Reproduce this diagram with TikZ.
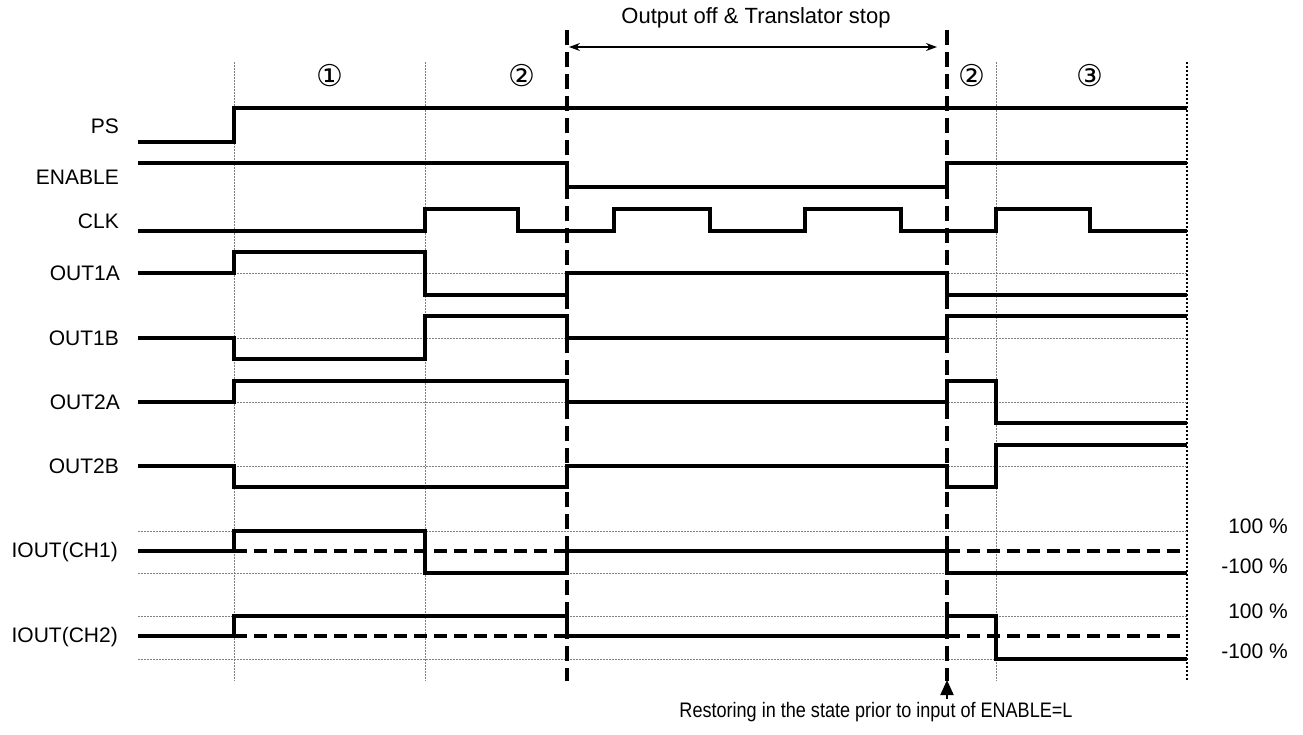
\documentclass[tikz,border=0pt]{standalone}
\usepackage{fontspec}
\setmainfont{Liberation Sans}
\newfontfamily\narrowfont{Liberation Sans}[FakeStretch=0.86]
\newfontfamily\circfont{DejaVu Sans}
\usepackage{tikz}
\usetikzlibrary{arrows.meta}
\usetikzlibrary{positioning}

\begin{document}
\begin{tikzpicture}[x=1pt, y=-1pt,
    sig/.style={line width=3.2pt, line join=miter},
    mid/.style={line width=3.2pt, dash pattern=on 13pt off 7pt},
    refline/.style={gray, line width=0.9pt, dash pattern=on 2pt off 1pt},
    tmark/.style={gray, line width=0.9pt, dash pattern=on 2pt off 1pt},
    stopline/.style={line width=3.4pt, dash pattern=on 15pt off 7pt},
    endline/.style={line width=2pt, dash pattern=on 2pt off 2pt},
    lbl/.style={anchor=east, inner sep=0pt, font=\fontsize{21}{25}\selectfont},
    pct/.style={anchor=east, inner sep=0pt, font=\fontsize{21}{25}\selectfont},
    phase/.style={inner sep=0pt, font=\circfont\fontsize{30}{34}\selectfont}]
    \useasboundingbox (0,0) rectangle (1303,735);

    % time marks
    \foreach \t in {234,425,996}
        \draw[tmark] (\t,62) -- (\t,681);
    \draw[endline] (1187,62) -- (1187,681);

    % reference levels
    \foreach \y in {273,338,402,466}
        \draw[refline] (234,\y) -- (1187,\y);
    \foreach \y in {531,573,616,659}
        \draw[refline] (138,\y) -- (1187,\y);

    % signal names
    \node[lbl] (ps)    at (119,126) {PS};
    \node[lbl] (en)    at (119,177) {ENABLE};
    \node[lbl] (clk)   at (119,221) {CLK};
    \node[lbl] (o1a)   at (120,273) {OUT1A};
    \node[lbl] (o1b)   at (119,338) {OUT1B};
    \node[lbl] (o2a)   at (120,402) {OUT2A};
    \node[lbl] (o2b)   at (119,466) {OUT2B};
    \node[lbl] (iout1) at (118,552) {IOUT(CH1)};
    \node[lbl] (iout2) at (118,637) {IOUT(CH2)};

    % phases
    \node[phase] (ph1)  at (330,76) {①};
    \node[phase] (ph2)  at (522,76) {②};
    \node[phase] (ph2b) at (972,76) {②};
    \node[phase] (ph3)  at (1090,76) {③};

    % waveforms
    \draw[sig] (138,142) -| (234,108) -- (1187,108);
    \draw[sig] (138,163) -| (567,187) -| (947,163) -- (1187,163);
    \draw[sig] (138,231) -| (425,209) -| (518,231) -| (614,209) -| (710,231)
               -| (805,209) -| (901,231) -| (996,209) -| (1090,231) -- (1187,231);
    \draw[sig] (138,273) -| (234,252) -| (425,295) -| (567,273) -| (947,295) -- (1187,295);
    \draw[sig] (138,338) -| (234,359) -| (425,316) -| (567,338) -| (947,316) -- (1187,316);
    \draw[sig] (138,402) -| (234,381) -| (567,402) -| (947,381) -| (996,423) -- (1187,423);
    \draw[sig] (138,466) -| (234,487) -| (567,466) -| (947,487) -| (996,445) -- (1187,445);
    \draw[sig] (138,551) -| (234,531) -| (425,573) -| (567,551) -| (947,573) -- (1187,573);
    \draw[sig] (138,636) -| (234,616) -| (567,636) -| (947,616) -| (996,659) -- (1187,659);

    % zero current
    \draw[mid] (234,551) -- (567,551);
    \draw[mid] (947,551) -- (1187,551);
    \draw[mid] (234,636) -- (567,636);
    \draw[mid] (947,636) -- (1187,636);

    % current levels
    \node[pct] (p1) at (1288,526) {100 \%};
    \node[pct] (m1) at (1288,566) {-100 \%};
    \node[pct] (p2) at (1288,611) {100 \%};
    \node[pct] (m2) at (1288,651) {-100 \%};

    % output off period
    \draw[stopline] (567,30) -- (567,681);
    \draw[stopline] (947,30) -- (947,681);
    \coordinate (offL) at (569,47);
    \coordinate (offR) at (937,47);
    \draw[{Stealth[length=11pt,width=8pt]}-{Stealth[length=11pt,width=8pt]}, line width=1.1pt] (offL) -- (offR);
    \node[inner sep=0pt, font=\fontsize{22}{26}\selectfont] (off) at (756,18) {Output off \& Translator stop};

    % restore
    \coordinate (rsTip) at (947,680);
    \node[inner sep=0pt, font=\narrowfont\fontsize{21}{25}\selectfont] (rs) at (876,712) {Restoring in the state prior to input of ENABLE=L};
    \draw[-{Triangle[length=15pt,width=13pt]}, line width=2pt] (rsTip |- rs.north) ++(0,-3) -- (rsTip);
\end{tikzpicture}
\end{document}
